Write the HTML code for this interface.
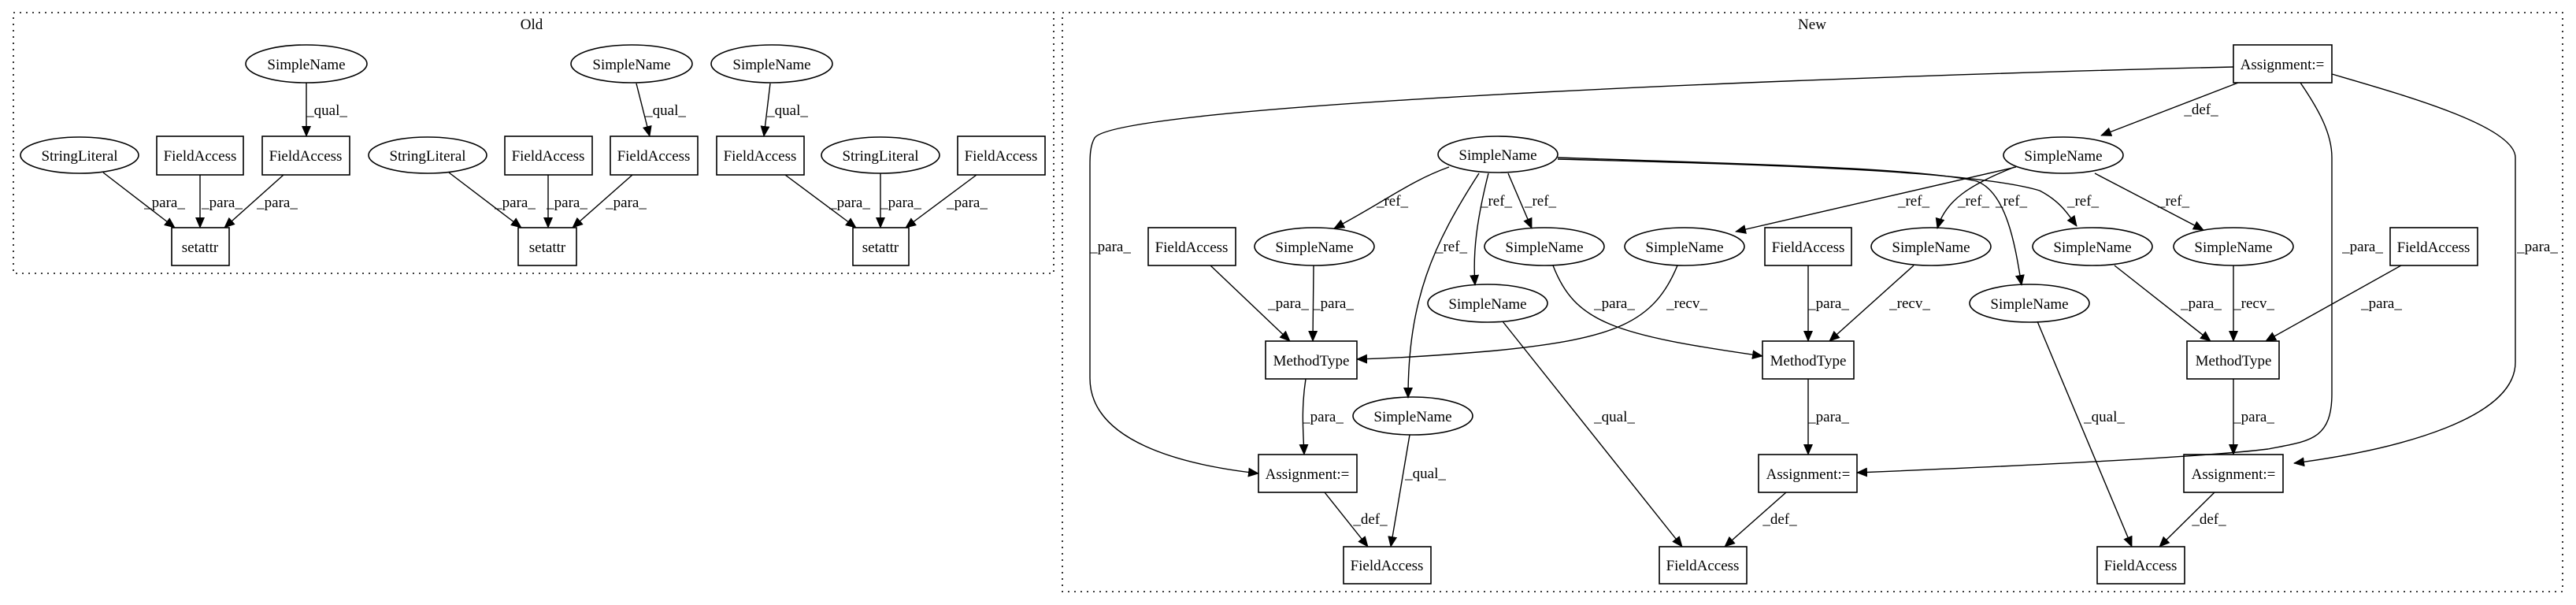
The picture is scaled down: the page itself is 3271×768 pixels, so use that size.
<!DOCTYPE html>
<html><head><meta charset="utf-8"><style>
html,body{margin:0;padding:0;background:#fff;}
svg{display:block;}
text{font-family:"Liberation Serif",serif;font-size:19px;fill:#000;}
</style></head><body>
<svg width="3271" height="768" viewBox="0 0 3271 768" xmlns="http://www.w3.org/2000/svg">
<defs>
<marker id="a" markerUnits="userSpaceOnUse" markerWidth="14" markerHeight="12" refX="13" refY="6" orient="auto">
<path d="M0,0 L14,6 L0,12 Z" fill="#000"/>
</marker>
</defs>
<g fill="none" stroke="#000" stroke-width="1.6" stroke-dasharray="2,6">
<rect x="17" y="16" width="1321" height="331"/>
<rect x="1349" y="16" width="1905" height="735"/>
</g>
<text x="675" y="37" text-anchor="middle">Old</text>
<text x="2301" y="37" text-anchor="middle">New</text>

<g fill="none" stroke="#000" stroke-width="1.6">
<!-- OLD nodes -->
<ellipse cx="389" cy="81" rx="77" ry="24"/>
<ellipse cx="802" cy="81" rx="77" ry="24"/>
<ellipse cx="980" cy="81" rx="77" ry="24"/>
<ellipse cx="101" cy="197" rx="75" ry="23"/>
<ellipse cx="543" cy="197" rx="75" ry="23"/>
<ellipse cx="1118" cy="197" rx="75" ry="23"/>
<rect x="199" y="173" width="110" height="49"/>
<rect x="333" y="173" width="111" height="49"/>
<rect x="641" y="173" width="111" height="49"/>
<rect x="775" y="173" width="111" height="49"/>
<rect x="910" y="173" width="111" height="49"/>
<rect x="1216" y="173" width="111" height="49"/>
<rect x="218" y="289" width="73" height="48"/>
<rect x="658" y="289" width="74" height="48"/>
<rect x="1083" y="289" width="71" height="48"/>
<!-- NEW nodes -->
<rect x="2836" y="57" width="125" height="48"/>
<ellipse cx="1902" cy="196" rx="76" ry="23"/>
<ellipse cx="2620" cy="197" rx="76" ry="23"/>
<rect x="1458" y="289" width="111" height="48"/>
<ellipse cx="1669" cy="313" rx="76" ry="24"/>
<ellipse cx="1961" cy="313" rx="76" ry="24"/>
<ellipse cx="2139" cy="313" rx="76" ry="24"/>
<rect x="2241" y="289" width="110" height="48"/>
<ellipse cx="2452" cy="313" rx="76" ry="24"/>
<ellipse cx="2657" cy="313" rx="76" ry="24"/>
<ellipse cx="2836" cy="313" rx="76" ry="24"/>
<rect x="3035" y="289" width="111" height="48"/>
<ellipse cx="1889" cy="385" rx="76" ry="24"/>
<ellipse cx="2577" cy="385" rx="76" ry="24"/>
<rect x="1607" y="433" width="116" height="48"/>
<rect x="2238" y="433" width="116" height="48"/>
<rect x="2777" y="433" width="117" height="48"/>
<ellipse cx="1794" cy="528" rx="76" ry="24"/>
<rect x="1598" y="577" width="125" height="48"/>
<rect x="2233" y="577" width="125" height="48"/>
<rect x="2773" y="577" width="126" height="48"/>
<rect x="1706" y="694" width="111" height="47"/>
<rect x="2107" y="694" width="111" height="47"/>
<rect x="2663" y="694" width="111" height="47"/>
</g>

<g fill="none" stroke="#000" stroke-width="1.4" marker-end="url(#a)">
<!-- OLD edges -->
<path d="M389,105 L389,173"/>
<path d="M808,106 L825,173"/>
<path d="M978,106 L970,173"/>
<path d="M131,219 L222,289"/>
<path d="M254,222 L254,289"/>
<path d="M360,222 L285,289"/>
<path d="M570,219 L662,289"/>
<path d="M696,222 L696,289"/>
<path d="M803,222 L727,289"/>
<path d="M997,222 L1087,289"/>
<path d="M1118,220 L1118,289"/>
<path d="M1240,222 L1150,289"/>
<!-- NEW edges -->
<path d="M2836,85 C2400,95 1420,130 1390,175 C1384,185 1384,200 1384,210 L1384,480 C1384,560 1500,590 1598,601"/>
<path d="M2842,105 L2668,172"/>
<path d="M2921,105 C2945,140 2961,170 2961,200 L2961,500 C2961,560 2930,560 2880,570 C2800,580 2600,590 2358,600"/>
<path d="M2961,94 C3050,120 3194,160 3194,200 L3194,460 C3194,530 3050,570 2913,588"/>
<path d="M1840,212 C1790,230 1760,255 1694,290"/>
<path d="M1878,220 C1820,310 1788,380 1788,505"/>
<path d="M1890,220 C1875,280 1870,320 1873,362"/>
<path d="M1915,220 L1945,290"/>
<path d="M1978,200 C2200,208 2430,212 2510,230 C2550,245 2560,320 2567,362"/>
<path d="M1978,202 C2200,208 2500,215 2590,242 C2615,255 2625,270 2637,287"/>
<path d="M2560,212 L2204,294"/>
<path d="M2558,212 C2500,235 2470,255 2460,290"/>
<path d="M2660,220 L2798,292"/>
<path d="M1537,337 L1638,433"/>
<path d="M1668,337 L1667,433"/>
<path d="M2130,337 C2100,410 2050,430 1900,445 C1820,452 1760,455 1723,456"/>
<path d="M1972,337 C2000,410 2050,425 2238,452"/>
<path d="M2296,337 L2296,433"/>
<path d="M2430,337 L2323,433"/>
<path d="M2685,337 L2807,433"/>
<path d="M2836,337 L2836,433"/>
<path d="M3049,337 L2877,433"/>
<path d="M1658,481 C1652,520 1655,550 1656,577"/>
<path d="M2296,481 L2296,577"/>
<path d="M2836,481 L2836,577"/>
<path d="M1682,625 L1737,694"/>
<path d="M1790,552 L1766,694"/>
<path d="M1908,408 L2136,694"/>
<path d="M2268,625 L2190,694"/>
<path d="M2587,408 L2707,694"/>
<path d="M2812,625 L2742,694"/>
</g>

<g text-anchor="middle">
<!-- OLD node labels -->
<text x="389" y="88">SimpleName</text>
<text x="802" y="88">SimpleName</text>
<text x="980" y="88">SimpleName</text>
<text x="101" y="204">StringLiteral</text>
<text x="543" y="204">StringLiteral</text>
<text x="1118" y="204">StringLiteral</text>
<text x="254" y="204">FieldAccess</text>
<text x="388" y="204">FieldAccess</text>
<text x="696" y="204">FieldAccess</text>
<text x="830" y="204">FieldAccess</text>
<text x="965" y="204">FieldAccess</text>
<text x="1271" y="204">FieldAccess</text>
<text x="254" y="320">setattr</text>
<text x="695" y="320">setattr</text>
<text x="1118" y="320">setattr</text>
<!-- OLD edge labels -->
<text x="415" y="146">_qual_</text>
<text x="845" y="146">_qual_</text>
<text x="1000" y="146">_qual_</text>
<text x="209" y="263">_para_</text>
<text x="282" y="263">_para_</text>
<text x="352" y="263">_para_</text>
<text x="654" y="263">_para_</text>
<text x="720" y="263">_para_</text>
<text x="795" y="263">_para_</text>
<text x="1079" y="263">_para_</text>
<text x="1144" y="263">_para_</text>
<text x="1228" y="263">_para_</text>
<!-- NEW node labels -->
<text x="2898" y="88">Assignment:=</text>
<text x="1902" y="203">SimpleName</text>
<text x="2620" y="204">SimpleName</text>
<text x="1513" y="320">FieldAccess</text>
<text x="1669" y="320">SimpleName</text>
<text x="1961" y="320">SimpleName</text>
<text x="2139" y="320">SimpleName</text>
<text x="2296" y="320">FieldAccess</text>
<text x="2452" y="320">SimpleName</text>
<text x="2657" y="320">SimpleName</text>
<text x="2836" y="320">SimpleName</text>
<text x="3090" y="320">FieldAccess</text>
<text x="1889" y="392">SimpleName</text>
<text x="2577" y="392">SimpleName</text>
<text x="1665" y="464">MethodType</text>
<text x="2296" y="464">MethodType</text>
<text x="2836" y="464">MethodType</text>
<text x="1794" y="535">SimpleName</text>
<text x="1660" y="608">Assignment:=</text>
<text x="2296" y="608">Assignment:=</text>
<text x="2836" y="608">Assignment:=</text>
<text x="1761" y="724">FieldAccess</text>
<text x="2162" y="724">FieldAccess</text>
<text x="2718" y="724">FieldAccess</text>
<!-- NEW edge labels -->
<text x="1410" y="319">_para_</text>
<text x="2795" y="145">_def_</text>
<text x="3000" y="319">_para_</text>
<text x="3222" y="319">_para_</text>
<text x="1768" y="261">_ref_</text>
<text x="1843" y="319">_ref_</text>
<text x="1900" y="261">_ref_</text>
<text x="1956" y="261">_ref_</text>
<text x="2430" y="261">_ref_</text>
<text x="2506" y="261">_ref_</text>
<text x="2554" y="261">_ref_</text>
<text x="2645" y="261">_ref_</text>
<text x="2760" y="261">_ref_</text>
<text x="1636" y="391">_para_</text>
<text x="1693" y="391">_para_</text>
<text x="2142" y="391">_recv_</text>
<text x="2050" y="391">_para_</text>
<text x="2322" y="391">_para_</text>
<text x="2425" y="391">_recv_</text>
<text x="2795" y="391">_para_</text>
<text x="2862" y="391">_recv_</text>
<text x="3024" y="391">_para_</text>
<text x="1680" y="535">_para_</text>
<text x="2322" y="535">_para_</text>
<text x="2862" y="535">_para_</text>
<text x="1740" y="665">_def_</text>
<text x="1810" y="607">_qual_</text>
<text x="2050" y="535">_qual_</text>
<text x="2260" y="665">_def_</text>
<text x="2672" y="535">_qual_</text>
<text x="2805" y="665">_def_</text>
</g>
</svg>
</body></html>
